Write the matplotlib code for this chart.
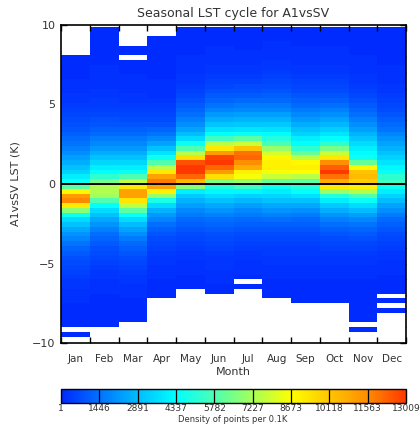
import numpy as np
import matplotlib
matplotlib.use("Agg")
import matplotlib.pyplot as plt
from matplotlib.colors import LinearSegmentedColormap, Normalize

# density of points per 0.1K, in hundreds, for 0.3K bins from -9.9K (first) to 9.9K (last)
months = ["Jan", "Feb", "Mar", "Apr", "May", "Jun", "Jul", "Aug", "Sep", "Oct", "Nov", "Dec"]
jan = [0, 1, 0, 1, 1, 1, 1, 1, 2, 2, 2, 3, 3, 4, 5, 6, 7, 8, 10, 12,
       15, 18, 21, 25, 30, 36, 46, 68, 92, 116, 112, 88, 60,
       45, 40, 34, 30, 26, 23, 20, 17, 15, 13, 11, 9, 8, 7, 6, 5, 4,
       3, 3, 2, 2, 2, 1, 1, 1, 1, 1, 0, 0, 0, 0, 0, 0]
feb = [0, 0, 0, 1, 1, 1, 1, 1, 1, 1, 2, 2, 2, 3, 3, 4, 5, 6, 7, 8,
       10, 12, 14, 17, 21, 25, 30, 36, 44, 58, 72, 74, 74,
       64, 52, 44, 40, 35, 30, 26, 22, 19, 16, 13, 11, 9, 8, 6, 5, 4,
       4, 3, 3, 2, 2, 2, 2, 2, 1, 1, 1, 1, 1, 1, 1, 1]
mar = [0, 0, 0, 0, 1, 1, 1, 1, 1, 2, 2, 2, 3, 3, 4, 5, 6, 7, 9, 11,
       13, 16, 20, 24, 29, 36, 45, 60, 76, 93, 110, 110, 92,
       76, 58, 45, 40, 35, 30, 26, 22, 19, 16, 13, 11, 9, 7, 6, 5, 4,
       3, 3, 2, 2, 2, 2, 1, 1, 1, 0, 1, 1, 0, 0, 0, 0]
apr = [0, 0, 0, 0, 0, 0, 0, 0, 0, 1, 1, 1, 1, 2, 2, 2, 3, 3, 4, 5,
       6, 7, 9, 11, 14, 18, 22, 27, 36, 48, 70, 90, 110,
       118, 110, 92, 75, 58, 46, 38, 30, 24, 19, 15, 12, 9, 7, 6, 5, 4,
       3, 2, 2, 2, 2, 1, 1, 1, 1, 1, 1, 1, 1, 1, 0, 0]
may = [0, 0, 0, 0, 0, 0, 0, 0, 0, 0, 0, 1, 1, 1, 2, 2, 2, 3, 3, 4,
       5, 6, 7, 9, 11, 13, 16, 19, 23, 27, 32, 40, 68,
       105, 122, 130, 130, 126, 95, 75, 58, 45, 36, 29, 24, 20, 17, 14, 12, 10,
       8, 6, 5, 4, 3, 3, 2, 2, 2, 2, 1, 1, 1, 1, 1, 1]
jun = [0, 0, 0, 0, 0, 0, 0, 0, 0, 0, 1, 1, 2, 2, 2, 3, 3, 3, 4, 5,
       6, 7, 8, 10, 12, 14, 17, 21, 25, 30, 36, 42, 50,
       66, 95, 112, 122, 130, 128, 112, 92, 75, 55, 44, 37, 31, 26, 22, 18, 15,
       12, 10, 8, 6, 5, 4, 3, 3, 2, 2, 2, 2, 1, 1, 1, 1]
jul = [0, 0, 0, 0, 0, 0, 0, 0, 0, 0, 0, 1, 0, 1, 2, 2, 2, 3, 3, 4,
       5, 6, 7, 9, 11, 13, 16, 19, 23, 28, 34, 42, 55,
       70, 85, 90, 108, 115, 122, 120, 102, 78, 60, 45, 38, 32, 27, 23, 19, 16,
       13, 10, 8, 7, 5, 4, 3, 3, 2, 2, 2, 1, 1, 1, 1, 1]
aug = [0, 0, 0, 0, 0, 0, 0, 0, 0, 1, 1, 1, 1, 2, 2, 2, 3, 3, 4, 4,
       5, 6, 7, 9, 11, 14, 17, 21, 25, 30, 35, 40, 46,
       62, 78, 85, 90, 90, 88, 80, 70, 57, 50, 43, 37, 32, 27, 23, 19, 16,
       13, 11, 9, 7, 6, 5, 4, 3, 3, 2, 2, 2, 2, 1, 1, 1]
sep = [0, 0, 0, 0, 0, 0, 0, 0, 1, 1, 1, 1, 1, 2, 2, 2, 3, 3, 4, 4,
       5, 6, 7, 9, 11, 13, 16, 20, 25, 30, 37, 44, 50,
       60, 75, 87, 90, 88, 76, 62, 52, 44, 40, 34, 30, 26, 22, 19, 16, 13,
       11, 9, 7, 6, 5, 4, 3, 3, 2, 2, 2, 2, 1, 1, 1, 1]
oct_ = [0, 0, 0, 0, 0, 0, 0, 0, 1, 1, 1, 1, 1, 2, 2, 2, 3, 3, 4, 5,
        6, 7, 9, 11, 14, 17, 21, 26, 32, 40, 50, 70, 92,
        108, 120, 130, 123, 115, 92, 78, 65, 52, 44, 38, 33, 28, 24, 20, 17, 14,
        11, 9, 7, 6, 5, 4, 3, 3, 2, 2, 2, 2, 1, 1, 1, 1]
nov = [0, 0, 1, 0, 1, 1, 1, 1, 1, 1, 1, 1, 1, 2, 2, 2, 3, 3, 4, 5,
       6, 8, 10, 12, 15, 19, 23, 29, 36, 45, 58, 74, 90,
       100, 104, 102, 88, 62, 46, 43, 40, 36, 31, 27, 23, 20, 17, 14, 12, 10,
       8, 6, 5, 4, 3, 3, 2, 2, 2, 2, 1, 1, 1, 1, 1, 1]
dec = [0, 0, 0, 0, 0, 0, 1, 0, 1, 0, 1, 1, 1, 1, 2, 2, 2, 3, 3, 4,
       5, 6, 7, 9, 11, 13, 16, 20, 24, 29, 34, 40, 46,
       55, 52, 45, 42, 38, 34, 30, 27, 24, 21, 18, 15, 13, 11, 9, 7, 6,
       5, 4, 3, 3, 2, 2, 2, 2, 1, 1, 1, 1, 1, 1, 1, 1]

cbar_ticks = [1, 1446, 2891, 4337, 5782, 7227, 8673, 10118, 11563, 13009]

cols = [jan, feb, mar, apr, may, jun, jul, aug, sep, oct_, nov, dec]
density = np.array(cols, dtype=float).T * 100
density = np.ma.masked_less(density, 1)

cmap = LinearSegmentedColormap.from_list("idl", [
    (0.0, 0.16, 1.0), (0.0, 0.45, 1.0), (0.0, 0.74, 1.0), (0.0, 1.0, 1.0),
    (0.3, 1.0, 0.7), (0.65, 1.0, 0.35), (1.0, 1.0, 0.0), (1.0, 0.78, 0.0),
    (1.0, 0.55, 0.0), (1.0, 0.22, 0.0)])
cmap.set_bad("white")
norm = Normalize(vmin=cbar_ticks[0], vmax=cbar_ticks[-1])

txt = "#333333"
fig = plt.figure(figsize=(4.20, 4.24), dpi=100)
ax = fig.add_axes([61 / 420, 81 / 424, 345 / 420, 318 / 424])

xedges = np.arange(13)
yedges = np.linspace(-9.9, 9.9, 67)
mesh = ax.pcolormesh(xedges, yedges, density, cmap=cmap, norm=norm,
                     shading="flat", antialiased=False, zorder=2)
ax.axhline(0, color="black", lw=1.4, zorder=3)

ax.set_xlim(0, 12)
ax.set_ylim(-10, 10)
ax.set_xticks(np.arange(13))
ax.set_xticklabels([])
ax.set_xticks(np.arange(12) + 0.5, minor=True)
ax.set_xticklabels(months, minor=True, fontsize=7.5, color=txt)
ax.tick_params(axis="x", which="major", direction="in", length=4.5, width=1,
               top=True, bottom=True)
ax.tick_params(axis="x", which="minor", length=0, pad=8)
ax.xaxis.set_zorder(3)

ax.set_yticks([-10, -5, 0, 5, 10])
ax.set_yticks(np.arange(-10, 11), minor=True)
ax.tick_params(axis="y", which="major", direction="in", length=4.5, width=1,
               left=True, right=True, labelsize=8, labelcolor=txt, pad=4)
ax.tick_params(axis="y", which="minor", direction="in", length=3, width=1,
               left=True, right=True)
for s in ax.spines.values():
    s.set_linewidth(1.2)
    s.set_zorder(4)

ax.set_xlabel("Month", fontsize=8, color=txt, labelpad=2)
ax.set_ylabel("A1vsSV LST (K)", fontsize=8, color=txt, labelpad=8)
ax.set_title("Seasonal LST cycle for A1vsSV", fontsize=9, color=txt, pad=6)

cax = fig.add_axes([61 / 420, 21 / 424, 345 / 420, 14 / 424])
cb = fig.colorbar(mesh, cax=cax, orientation="horizontal", ticks=cbar_ticks)
cb.ax.set_xticklabels([str(t) for t in cbar_ticks], fontsize=6.5, color=txt)
cb.ax.tick_params(length=0, pad=1)
cb.outline.set_linewidth(1)
for t in cbar_ticks[1:-1]:
    cb.ax.axvline(t, color="black", lw=0.9)
fig.text(233 / 420, 0.3 / 424, "Density of points per 0.1K", fontsize=6,
         color=txt, ha="center", va="bottom")

fig.savefig("out.png", dpi=100)
